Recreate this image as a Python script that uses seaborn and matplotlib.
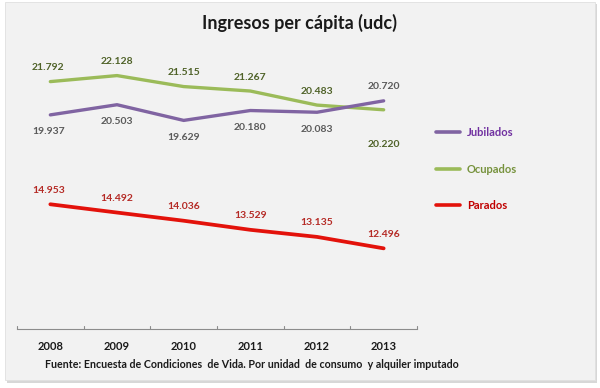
import matplotlib
matplotlib.use("Agg")
import matplotlib.pyplot as plt
import seaborn as sns
import pandas as pd
from matplotlib.patches import Rectangle

years = ["2008", "2009", "2010", "2011", "2012", "2013"]
jubilados = [19.937, 20.503, 19.629, 20.180, 20.083, 20.720]
ocupados = [21.792, 22.128, 21.515, 21.267, 20.483, 20.220]
parados = [14.953, 14.492, 14.036, 13.529, 13.135, 12.496]
series_names = ["Jubilados", "Ocupados", "Parados"]
title = "Ingresos per cápita (udc)"
footnote = "Fuente: Encuesta de Condiciones  de Vida. Por unidad  de consumo  y alquiler imputado"

# style
line_colors = {"Jubilados": "#8064a2", "Ocupados": "#9bbb59", "Parados": "#e3120b"}
label_colors = {"Jubilados": "#5a5a5a", "Ocupados": "#4f6228", "Parados": "#b52a25"}
legend_text_colors = {"Jubilados": "#7030a0", "Ocupados": "#76923c", "Parados": "#c00000"}
# label placement: +1 above, -1 below (per point)
placement = {
    "Jubilados": [-1, -1, -1, -1, -1, 1],
    "Ocupados": [1, 1, 1, 1, 1, -1],
    "Parados": [1, 1, 1, 1, 1, 1],
}

data = {"Jubilados": jubilados, "Ocupados": ocupados, "Parados": parados}
rows = []
for name in series_names:
    for i, v in enumerate(data[name]):
        rows.append({"idx": i, "year": years[i], "valor": v, "serie": name})
df = pd.DataFrame(rows)

sns.set_theme(style="white")
plt.rcParams["font.family"] = ["Lato", "DejaVu Sans"]

W, H = 600, 388
fig = plt.figure(figsize=(6, 3.88), dpi=100)
fig.patch.set_facecolor("white")

# panel with shadow
fig.patches.append(Rectangle((7 / W, 1 - 383 / H), 590 / W, 379 / H, transform=fig.transFigure,
                             facecolor="#bdbdbd", edgecolor="none", alpha=0.6, zorder=-3))
fig.patches.append(Rectangle((5 / W, 1 - 380 / H), 590 / W, 378 / H, transform=fig.transFigure,
                             facecolor="#f2f2f2", edgecolor="#e0e0e0", linewidth=0.6, zorder=-2))

ax = fig.add_axes([17 / W, 1 - 329 / H, 400 / W, 287 / H])
ax.set_facecolor("none")
ax.set_zorder(1)

sns.lineplot(data=df, x="idx", y="valor", hue="serie", hue_order=series_names,
             palette=line_colors, ax=ax, linewidth=2.4, legend=True, sort=False)
for line in ax.lines:
    if line.get_color().lower() == line_colors["Parados"]:
        line.set_linewidth(2.7)
    if line.get_color().lower() == line_colors["Jubilados"]:
        line.set_zorder(3)

ax.set_xlim(-0.5, 5.5)
ax.set_ylim(8, 24)
ax.set_yticks([])
ax.set_xticks(range(len(years)))
ax.set_xticklabels(years, fontsize=8, fontweight="bold", color="#1a1a1a")
ax.tick_params(axis="x", length=0, pad=9)
for b in [i - 0.5 for i in range(len(years) + 1)]:
    ax.plot([b, b], [8, 8.18], color="#8c8c8c", linewidth=0.8, clip_on=False)
for s in ["top", "right", "left"]:
    ax.spines[s].set_visible(False)
ax.spines["bottom"].set_color("#8c8c8c")
ax.spines["bottom"].set_linewidth(0.8)
ax.set_xlabel("")
ax.set_ylabel("")

for name in series_names:
    for i, v in enumerate(data[name]):
        p = placement[name][i]
        if name == "Ocupados" and p < 0:
            dy = -35
        elif p > 0:
            dy = 14
        else:
            dy = -17
        ax.annotate(f"{v:.3f}", (i, v), xytext=(-2 if i == 0 else 0, dy), textcoords="offset pixels",
                    ha="center", va="center", fontsize=7.5, fontweight="bold",
                    color=label_colors[name])

handles, labels = ax.get_legend_handles_labels()
leg = ax.legend(handles, labels, loc="upper left", bbox_to_anchor=(426 / W, 1 - 117 / H),
                bbox_transform=fig.transFigure, frameon=False, handlelength=2.2,
                labelspacing=2.3, fontsize=8, handletextpad=0.6)
for t in leg.get_texts():
    t.set_color(legend_text_colors[t.get_text()])
    t.set_fontweight("bold")
for lh in leg.get_lines():
    lh.set_linewidth(2.6)

fig.text(300 / W, 1 - 23 / H, title, ha="center", va="center", fontsize=13,
         fontweight="bold", color="#1a1a1a")
fig.text(45 / W, 1 - 365 / H, footnote, ha="left", va="center", fontsize=7.7,
         fontweight="bold", color="#1a1a1a")

fig.savefig("out.png", dpi=100, facecolor=fig.get_facecolor())
